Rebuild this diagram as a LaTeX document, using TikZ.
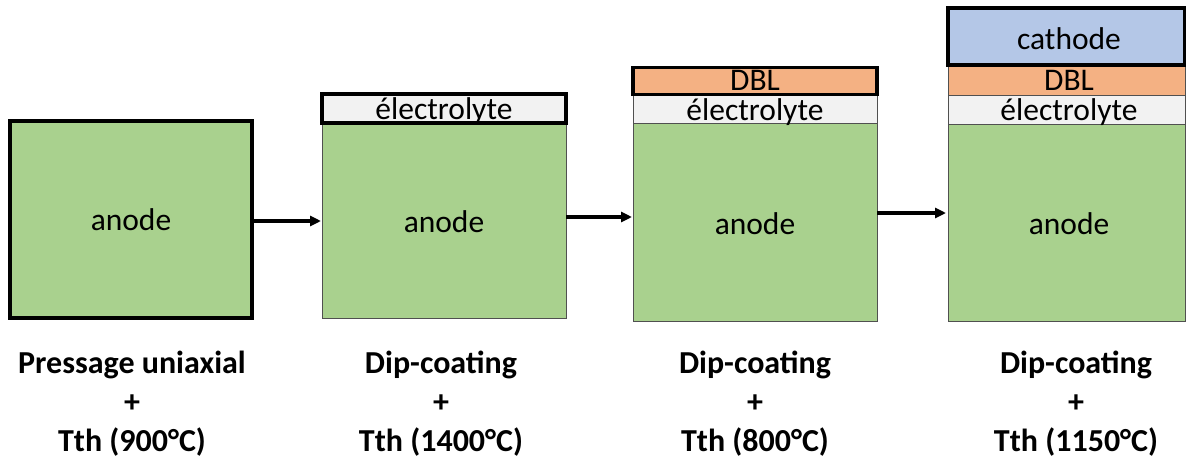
\documentclass[tikz,border=0pt]{standalone}
\usepackage{fontspec}
\setmainfont{Carlito}
\usetikzlibrary{arrows.meta}
\definecolor{anodeg}{HTML}{A9D18E}
\definecolor{electg}{HTML}{F2F2F2}
\definecolor{dblo}{HTML}{F4B183}
\definecolor{cathb}{HTML}{B4C7E7}
\definecolor{thinline}{HTML}{505050}
\tikzset{
  layer/.style={draw=thinline, line width=1pt, inner sep=0pt, outer sep=0pt},
  toplayer/.style={layer, draw=black, line width=3.2pt},
  boxtext/.style={font=\fontsize{31.5}{34}\selectfont, inner sep=0pt, anchor=base},
  tighttext/.style={boxtext, text height=19pt, text depth=0pt},
  steplabel/.style={font=\fontsize{32}{39}\selectfont\bfseries, align=center, inner sep=0pt},
  flow/.style={-{Triangle[length=11pt,width=10pt]}, line width=3.5pt, draw=black}
}
\begin{document}
\begin{tikzpicture}[x=1pt,y=-1pt]
\useasboundingbox (0,0) rectangle (1186,460);
% stack 1
\node[toplayer, fill=anodeg, minimum width=242pt, minimum height=197pt] (a1) at (131,219.5) {};
\node[boxtext] (ta1) at (131,230) {anode};
% stack 2
\node[layer, fill=anodeg, minimum width=244pt, minimum height=195pt] (a2) at (444,220.5) {};
\node[boxtext] (ta2) at (444,232) {anode};
\node[toplayer, fill=electg, minimum width=244pt, minimum height=29pt] (e2) at (444,108.5) {};
\node[tighttext] (te2) at (444,119) {électrolyte};
% stack 3
\node[layer, fill=anodeg, minimum width=244pt, minimum height=198pt] (a3) at (755,222) {};
\node[boxtext] (ta3) at (755,234) {anode};
\node[layer, fill=electg, minimum width=244pt, minimum height=28pt] (e3) at (755,109) {};
\node[tighttext] (te3) at (755,120) {électrolyte};
\node[toplayer, fill=dblo, minimum width=244pt, minimum height=27pt] (d3) at (755,81) {};
\node[tighttext] (td3) at (755,90.5) {DBL};
% stack 4
\node[layer, fill=anodeg, minimum width=237pt, minimum height=197pt] (a4) at (1066.5,222.5) {};
\node[boxtext] (ta4) at (1069,234) {anode};
\node[layer, fill=electg, minimum width=237pt, minimum height=29pt] (e4) at (1066.5,109.5) {};
\node[tighttext] (te4) at (1069,120) {électrolyte};
\node[layer, fill=dblo, minimum width=237pt, minimum height=30pt] (d4) at (1066.5,80) {};
\node[tighttext] (td4) at (1069,90.5) {DBL};
\node[toplayer, fill=cathb, minimum width=237pt, minimum height=57pt] (c4) at (1066.5,36.5) {};
\node[boxtext] (tc4) at (1069,50) {cathode};
% arrows
\coordinate (s1) at (a1.east |- 0,221);
\coordinate (t1) at (a2.west |- 0,221);
\coordinate (s2) at (a2.east |- 0,217);
\coordinate (t2) at (a3.west |- 0,217);
\coordinate (s3) at (a3.east |- 0,213);
\coordinate (t3) at (a4.west |- 0,213);
\draw[flow] (s1) -- ([xshift=-1pt]t1);
\draw[flow] (s2) -- ([xshift=-1pt]t2);
\draw[flow] (s3) -- ([xshift=-2pt]t3);
% labels
\node[steplabel] (l1) at (132,404) {Pressage uniaxial\\+\\Tth (900°C)};
\node[steplabel] (l2) at (441,404) {Dip-coating\\+\\Tth (1400°C)};
\node[steplabel] (l3) at (755,404) {Dip-coating\\+\\Tth (800°C)};
\node[steplabel] (l4) at (1076,404) {Dip-coating\\+\\Tth (1150°C)};
\end{tikzpicture}
\end{document}
